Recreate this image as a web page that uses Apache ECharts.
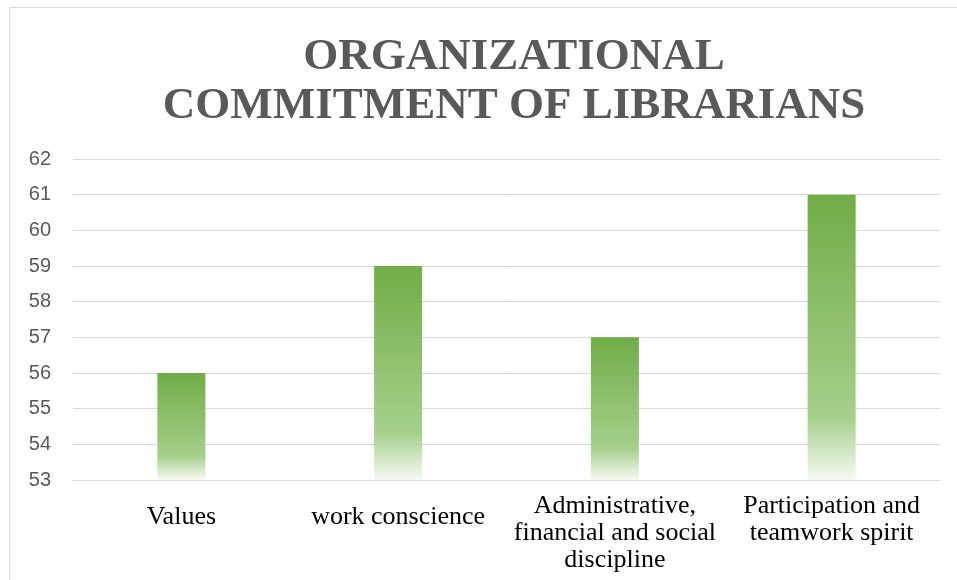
<!DOCTYPE html>
<html>
<head>
<meta charset="utf-8">
<script src="https://cdn.jsdelivr.net/npm/echarts@6/dist/echarts.min.js"></script>
<style>
html,body{margin:0;padding:0;background:#fff;}
#chart{width:957px;height:580px;}
</style>
</head>
<body>
<div id="chart"></div>
<script>
var titleText = 'ORGANIZATIONAL\nCOMMITMENT OF LIBRARIANS';
var categories = ['Values', 'work conscience', 'Administrative,\nfinancial and social\ndiscipline', 'Participation and\nteamwork spirit'];
var categoryLines = [1, 1, 3, 2];
var values = [56, 59, 57, 61];
var yMin = 53, yMax = 62, yInterval = 1;

var chart = echarts.init(document.getElementById('chart'));
var catData = categories.map(function (c, i) {
  return categoryLines[i] === 1 ? { value: c, textStyle: { padding: [11, 0, 0, 0] } } : { value: c };
});
chart.setOption({
  backgroundColor: '#ffffff',
  animation: false,
  graphic: [{
    type: 'rect',
    shape: { x: 9.5, y: 7.5, width: 1100, height: 700 },
    style: { fill: 'none', stroke: '#d9d9d9', lineWidth: 1 },
    silent: true, z: -10
  }],
  title: {
    text: titleText,
    left: 514,
    top: 33,
    padding: 0,
    textAlign: 'center',
    textStyle: {
      fontFamily: 'Liberation Serif',
      fontWeight: 'bold',
      fontSize: 45,
      lineHeight: 49,
      color: '#595959'
    }
  },
  grid: { left: 73, right: 17, top: 159, bottom: 100 },
  xAxis: {
    type: 'category',
    data: catData,
    axisLine: { show: true, lineStyle: { color: '#d9d9d9', width: 1 } },
    axisTick: { show: false },
    axisLabel: {
      interval: 0,
      margin: 13,
      color: '#000000',
      fontFamily: 'Liberation Serif',
      fontSize: 26,
      lineHeight: 27,
      verticalAlign: 'top'
    }
  },
  yAxis: {
    type: 'value',
    min: yMin,
    max: yMax,
    interval: yInterval,
    axisLine: { show: false },
    axisTick: { show: false },
    axisLabel: {
      margin: 22,
      color: '#595959',
      fontFamily: 'Liberation Sans',
      fontSize: 20
    },
    splitLine: { lineStyle: { color: '#d9d9d9', width: 1 } }
  },
  series: [{
    type: 'bar',
    data: values,
    barWidth: 48,
    itemStyle: {
      color: new echarts.graphic.LinearGradient(0, 0, 0, 1, [
        { offset: 0, color: '#70ad47' },
        { offset: 0.78, color: '#a6cf8b' },
        { offset: 1, color: '#f6faf3' }
      ])
    }
  }]
});
</script>
</body>
</html>
